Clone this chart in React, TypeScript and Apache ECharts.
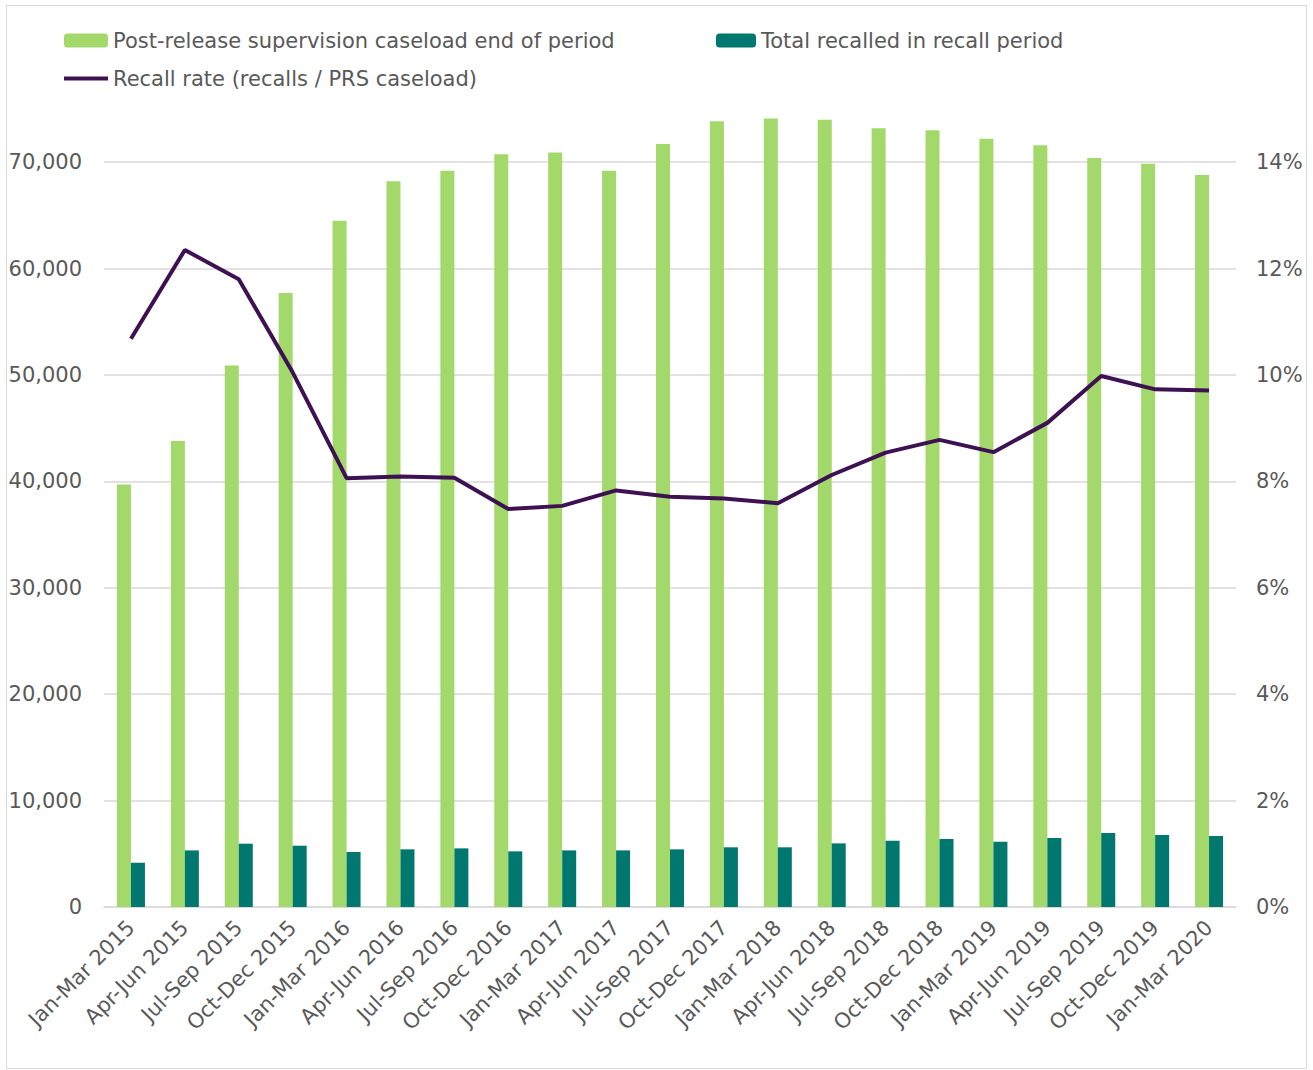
import React, { useEffect, useRef } from "react";
import * as echarts from "echarts";

const categories = [
  "Jan-Mar 2015", "Apr-Jun 2015", "Jul-Sep 2015", "Oct-Dec 2015",
  "Jan-Mar 2016", "Apr-Jun 2016", "Jul-Sep 2016", "Oct-Dec 2016",
  "Jan-Mar 2017", "Apr-Jun 2017", "Jul-Sep 2017", "Oct-Dec 2017",
  "Jan-Mar 2018", "Apr-Jun 2018", "Jul-Sep 2018", "Oct-Dec 2018",
  "Jan-Mar 2019", "Apr-Jun 2019", "Jul-Sep 2019", "Oct-Dec 2019",
  "Jan-Mar 2020",
];

const caseload = [
  39700, 43800, 50900, 57700, 64500, 68200, 69200, 70750, 70900, 69200,
  71700, 73850, 74100, 74000, 73200, 73000, 72200, 71600, 70400, 69850, 68800,
];

const recalled = [
  4160, 5320, 5950, 5760, 5170, 5420, 5510, 5230, 5320, 5320,
  5420, 5610, 5610, 5980, 6230, 6390, 6140, 6480, 6950, 6770, 6670,
];

const recallRate = [
  10.68, 12.35, 11.8, 10.05, 8.06, 8.09, 8.07, 7.48, 7.54, 7.83,
  7.71, 7.68, 7.59, 8.12, 8.54, 8.78, 8.55, 9.1, 9.98, 9.73, 9.71,
];

const seriesNames = [
  "Post-release supervision caseload end of period",
  "Total recalled in recall period",
  "Recall rate (recalls / PRS caseload)",
];

const FONT = "DejaVu Sans";
const TEXT = "#595959";
const GRID = "#d9d9d9";
const LINE = "#3e1152";

function fmtThousands(v: number): string {
  return String(v).replace(/\B(?=(\d{3})+(?!\d))/g, ",");
}

export default function App() {
  const ref = useRef<HTMLDivElement>(null);
  useEffect(() => {
    document.body.style.margin = "0";
    if (!ref.current) return;
    const chart = echarts.init(ref.current, undefined, { renderer: "svg" });
    const legendText = { fontFamily: FONT, fontSize: 21, color: TEXT };
    chart.setOption({
      animation: false,
      backgroundColor: "#ffffff",
      textStyle: { fontFamily: FONT },
      graphic: [
        {
          type: "rect",
          shape: { x: 6.5, y: 5.5, width: 1300, height: 1063 },
          style: { fill: "none", stroke: GRID, lineWidth: 1 },
          silent: true,
        },
      ],
      legend: [
        {
          data: [seriesNames[0]], left: 64, top: 30, padding: 0,
          itemWidth: 44, itemHeight: 14, itemGap: 0, textStyle: legendText,
        },
        {
          data: [seriesNames[1]], left: 716, top: 30, padding: 0,
          itemWidth: 40, itemHeight: 14, itemGap: 0, textStyle: legendText,
        },
        {
          data: [{ name: seriesNames[2], icon: "rect" }], left: 64, top: 68, padding: 0,
          itemWidth: 44, itemHeight: 4, itemGap: 0, textStyle: legendText,
        },
      ],
      grid: { left: 104, right: 77, top: 109, bottom: 163, containLabel: false },
      xAxis: {
        type: "category",
        data: categories,
        axisTick: { show: false },
        axisLine: { lineStyle: { color: GRID, width: 1.5 } },
        axisLabel: {
          interval: 0, rotate: 45, margin: 17,
          fontFamily: FONT, fontSize: 21, color: TEXT,
        },
      },
      yAxis: [
        {
          type: "value", min: 0, max: 75000, interval: 10000,
          axisLine: { show: false }, axisTick: { show: false },
          axisLabel: {
            showMaxLabel: false, margin: 22,
            fontFamily: FONT, fontSize: 21, color: TEXT,
            formatter: (v: number) => (v === 75000 ? "" : fmtThousands(v)),
          },
          splitLine: {
            lineStyle: {
              width: 1.5,
              color: [GRID, GRID, GRID, GRID, GRID, GRID, GRID, GRID, "rgba(0,0,0,0)"],
            },
          },
        },
        {
          type: "value", min: 0, max: 15, interval: 2,
          axisLine: { show: false }, axisTick: { show: false },
          splitLine: { show: false },
          axisLabel: {
            showMaxLabel: false, margin: 20,
            fontFamily: FONT, fontSize: 21, color: TEXT,
            formatter: (v: number) => (v === 15 ? "" : v + "%"),
          },
        },
      ],
      series: [
        {
          name: seriesNames[0], type: "bar", data: caseload,
          barWidth: 14, barGap: "0%",
          itemStyle: { color: "#a3d86a" },
        },
        {
          name: seriesNames[1], type: "bar", data: recalled,
          barWidth: 14, barGap: "0%",
          itemStyle: { color: "#00786f" },
        },
        {
          name: seriesNames[2], type: "line", yAxisIndex: 1, data: recallRate,
          symbol: "none", z: 5,
          lineStyle: { color: LINE, width: 4 },
          itemStyle: { color: LINE },
        },
      ],
    });
    return () => chart.dispose();
  }, []);
  return <div ref={ref} style={{ width: 1313, height: 1070 }} />;
}
